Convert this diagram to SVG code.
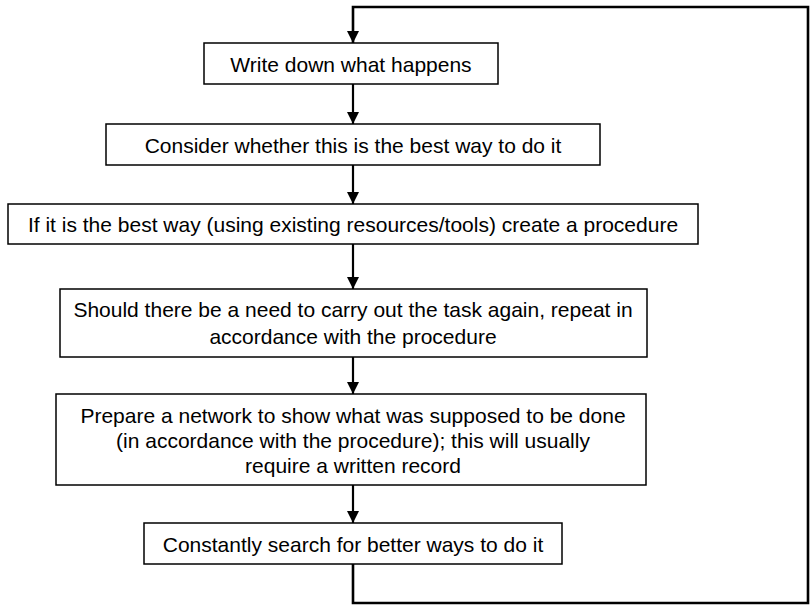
<svg xmlns="http://www.w3.org/2000/svg" width="811" height="605" viewBox="0 0 811 605">
  <style>
    .box { fill: #fff; stroke: #000; stroke-width: 1.5; }
    .lbl { font-family: "Liberation Sans", Arial, sans-serif; font-size: 21px; fill: #000; text-anchor: middle; }
    .link { fill: none; stroke: #000; stroke-width: 2.2; }
    .loop { stroke-width: 2.6; }
  </style>
  <defs>
    <marker id="arrow" markerUnits="userSpaceOnUse" markerWidth="12" markerHeight="14" viewBox="0 0 12 14" refX="12" refY="7" orient="auto">
      <path d="M0,1 L12,7 L0,13 Z" fill="#000"/>
    </marker>
  </defs>

  <g id="connectors">
    <polyline class="link loop" points="353,564 353,603 808,603 808,7 353,7 353,43" marker-end="url(#arrow)"/>
    <line class="link" x1="353" y1="84" x2="353" y2="124" marker-end="url(#arrow)"/>
    <line class="link" x1="353" y1="165" x2="353" y2="204" marker-end="url(#arrow)"/>
    <line class="link" x1="353" y1="244" x2="353" y2="289" marker-end="url(#arrow)"/>
    <line class="link" x1="353" y1="357" x2="353" y2="394" marker-end="url(#arrow)"/>
    <line class="link" x1="353" y1="485" x2="353" y2="523" marker-end="url(#arrow)"/>
  </g>

  <g id="write-down">
    <rect class="box" x="204" y="43" width="294" height="41"/>
    <text class="lbl" x="351" y="72">Write down what happens</text>
  </g>

  <g id="consider">
    <rect class="box" x="106" y="124" width="494" height="41"/>
    <text class="lbl" x="353" y="153">Consider whether this is the best way to do it</text>
  </g>

  <g id="create-procedure">
    <rect class="box" x="8" y="204" width="690" height="40"/>
    <text class="lbl" x="353" y="232">If it is the best way (using existing resources/tools) create a procedure</text>
  </g>

  <g id="repeat">
    <rect class="box" x="60" y="289" width="587" height="68"/>
    <text class="lbl" x="353" y="317">Should there be a need to carry out the task again, repeat in</text>
    <text class="lbl" x="353" y="344">accordance with the procedure</text>
  </g>

  <g id="network">
    <rect class="box" x="56" y="394" width="590" height="91"/>
    <text class="lbl" x="353" y="423">Prepare a network to show what was supposed to be done</text>
    <text class="lbl" x="353" y="448">(in accordance with the procedure); this will usually</text>
    <text class="lbl" x="353" y="473">require a written record</text>
  </g>

  <g id="search">
    <rect class="box" x="144" y="523" width="418" height="41"/>
    <text class="lbl" x="353" y="552">Constantly search for better ways to do it</text>
  </g>
</svg>
